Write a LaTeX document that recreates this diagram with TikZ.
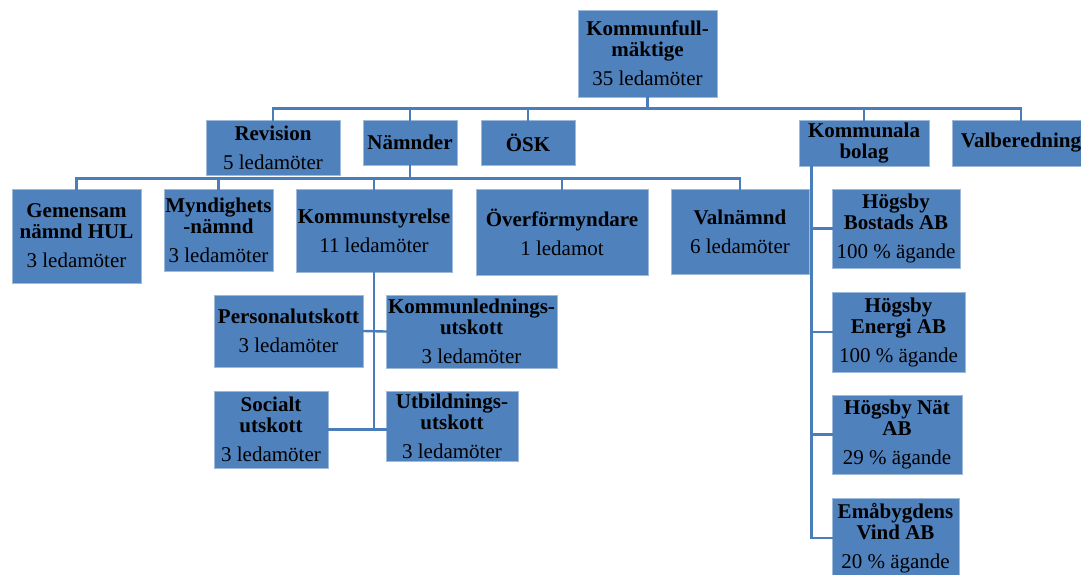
\documentclass[tikz,border=0pt]{standalone}
\usepackage{fontspec}
\setmainfont{Liberation Serif}
\usetikzlibrary{calc}
\usetikzlibrary{positioning}
\definecolor{rutbla}{RGB}{79,129,189}
\definecolor{linjebla}{RGB}{74,126,187}

\begin{document}
\begin{tikzpicture}[x=1pt,y=-1pt,line cap=rect,
    ruta/.style={fill=rutbla,draw=rutbla!55!white,line width=0.8pt,align=center,inner sep=0pt,
      font=\fontsize{21}{21}\selectfont},
    linje/.style={draw=linjebla,line width=2.4pt}]
  \useasboundingbox (0,0) rectangle (1081,574);
  \clip (0,0) rectangle (1081,574);
  % toppnivå
  \node[ruta,minimum width=139pt,minimum height=87pt] (kf) at (647.5,53.5)
    {\textbf{Kommunfull-}\\\textbf{mäktige}\\[8pt]35 ledamöter};
  \node[ruta,minimum width=134pt,minimum height=55pt] (rev) at (273,147.5)
    {\textbf{Revision}\\[8pt]5 ledamöter};
  \node[ruta,minimum width=94pt,minimum height=45pt] (namn) at (410,142.5) {\textbf{Nämnder}};
  \node[ruta,minimum width=94pt,minimum height=45pt] (osk) at (528,142.5) {\textbf{ÖSK}};
  \node[ruta,minimum width=130pt,minimum height=46pt] (bolag) at (864,143)
    {\textbf{Kommunala}\\\textbf{bolag}};
  \node[ruta,minimum width=138pt,minimum height=46pt] (valb) at (1021,143) {\textbf{Valberedning}};
  % nämnder
  \node[ruta,minimum width=129pt,minimum height=94pt] (gem) at (76.5,236)
    {\textbf{Gemensam}\\\textbf{nämnd HUL}\\[8pt]3 ledamöter};
  \node[ruta,minimum width=109pt,minimum height=82pt] (mynd) at (218.5,230)
    {\textbf{Myndighets}\\\textbf{-nämnd}\\[8pt]3 ledamöter};
  \node[ruta,minimum width=156pt,minimum height=83pt] (ks) at (374,230.5)
    {\textbf{Kommunstyrelse}\\[8pt]11 ledamöter};
  \node[ruta,minimum width=172pt,minimum height=86pt] (overf) at (562,232)
    {\textbf{Överförmyndare}\\[8pt]1 ledamot};
  \node[ruta,minimum width=138pt,minimum height=85pt] (valn) at (740,231.5)
    {\textbf{Valnämnd}\\[8pt]6 ledamöter};
  % utskott
  \node[ruta,minimum width=149pt,minimum height=72pt] (pers) at (288.5,331)
    {\textbf{Personalutskott}\\[8pt]3 ledamöter};
  \node[ruta,minimum width=171pt,minimum height=73pt] (kled) at (471.5,331.5)
    {\textbf{Kommunlednings-}\\\textbf{utskott}\\[8pt]3 ledamöter};
  \node[ruta,minimum width=114pt,minimum height=77pt] (soc) at (271,429.5)
    {\textbf{Socialt}\\\textbf{utskott}\\[8pt]3 ledamöter};
  \node[ruta,minimum width=132pt,minimum height=70pt] (utb) at (452,426)
    {\textbf{Utbildnings-}\\\textbf{utskott}\\[8pt]3 ledamöter};
  % bolag
  \node[ruta,minimum width=128pt,minimum height=79pt] (bost) at (896,228.5)
    {\textbf{Högsby}\\\textbf{Bostads AB}\\[8pt]100 \% ägande};
  \node[ruta,minimum width=133pt,minimum height=80pt] (energi) at (898.5,332)
    {\textbf{Högsby}\\\textbf{Energi AB}\\[8pt]100 \% ägande};
  \node[ruta,minimum width=130pt,minimum height=79pt] (nat) at (897,434.5)
    {\textbf{Högsby Nät}\\\textbf{AB}\\[8pt]29 \% ägande};
  \node[ruta,minimum width=127pt,minimum height=80pt] (vind) at (895.5,538)
    {\textbf{Emåbygdens}\\\textbf{Vind AB}\\[8pt]20 \% ägande};
  % linjer
  \foreach \barn in {rev,namn,osk,bolag,valb}
    \draw[linje] (kf.south) -- ++(0,11) -| (\barn.north);
  \foreach \barn in {gem,mynd,ks,overf,valn}
    \draw[linje] (namn.south) -- ++(0,13) -| (\barn.north);
  \coordinate (bolagfot) at ([xshift=13pt]bolag.south west);
  \foreach \barn in {bost,energi,nat,vind}
    \draw[linje] (bolagfot) |- (\barn.west);
  \coordinate (ksfot) at (ks.south |- soc.east);
  \draw[linje] (ks.south) -- (ksfot);
  \draw[linje] (pers.east) -- (kled.west);
  \draw[linje] (soc.east) -- (ksfot) -- (ksfot -| utb.west);
\end{tikzpicture}
\end{document}
